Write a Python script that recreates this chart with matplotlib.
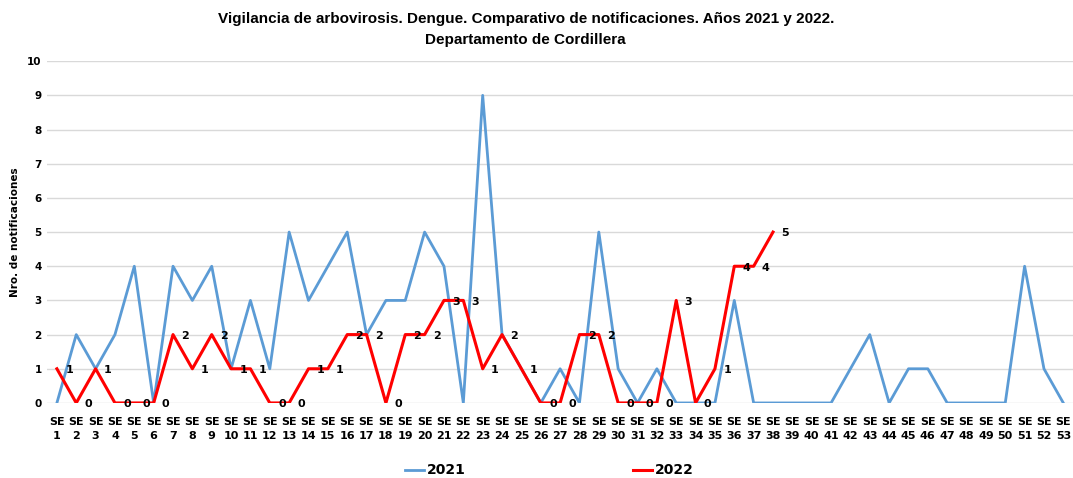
import matplotlib
matplotlib.use("Agg")
import matplotlib.pyplot as plt

weeks = [f"SE\n{i}" for i in range(1, 54)]
y2021 = [0, 2, 1, 2, 4, 0, 4, 3, 4, 1, 3, 1, 5, 3, 4, 5, 2, 3, 3, 5, 4, 0, 9, 2, 1, 0,
         1, 0, 5, 1, 0, 1, 0, 0, 0, 3, 0, 0, 0, 0, 0, 1, 2, 0, 1, 1, 0, 0, 0, 0, 4, 1, 0]
y2022 = [1, 0, 1, 0, 0, 0, 2, 1, 2, 1, 1, 0, 0, 1, 1, 2, 2, 0, 2, 2, 3, 3, 1, 2, 1, 0,
         0, 2, 2, 0, 0, 0, 3, 0, 1, 4, 4, 5]
yticks = list(range(0, 11))

fig = plt.figure(figsize=(10.73, 4.78), dpi=100)
ax = fig.add_axes([0.044, 0.157, 0.956, 0.715])

x21 = list(range(len(y2021)))
x22 = list(range(len(y2022)))
ax.plot(x21, y2021, color='#5B9BD5', lw=2.0, label='2021', zorder=2)
ax.plot(x22, y2022, color='#FF0000', lw=2.2, label='2022', zorder=3)

for xi, yi in zip(x22, y2022):
    ax.annotate(str(yi), (xi, yi), xytext=(6, -1), textcoords='offset points',
                ha='left', va='center', fontsize=8, fontweight='bold', color='black',
                zorder=4)

ax.set_xlim(-0.5, len(weeks) - 0.5)
ax.set_ylim(0, 10)
ax.set_xticks(range(len(weeks)))
ax.set_xticklabels(weeks, fontsize=8, fontweight='bold', linespacing=1.5)
ax.set_yticks(yticks)
ax.set_yticklabels([str(t) for t in yticks], fontsize=7.5, fontweight='bold')
ax.tick_params(axis='y', length=0, pad=4)
ax.tick_params(axis='x', length=0, pad=10)
ax.grid(axis='y', color='#D9D9D9', lw=1)
ax.set_axisbelow(True)
for s in ax.spines.values():
    s.set_visible(False)
ax.set_ylabel('Nro. de notificaciones', fontsize=7.5, fontweight='bold', labelpad=5)

fig.text(0.49, 0.975, 'Vigilancia de arbovirosis. Dengue. Comparativo de notificaciones. Años 2021 y 2022.\nDepartamento de Cordillera',
         ha='center', va='top', fontsize=11, fontweight='bold', family='Liberation Sans',
         linespacing=1.65)

leg = fig.legend(loc='lower center', bbox_to_anchor=(0.512, -0.025), ncol=2, frameon=False,
                 prop={'weight': 'bold', 'size': 10}, handlelength=1.4, handletextpad=0.2,
                 columnspacing=12)
fig.savefig('out.png', dpi=100)
